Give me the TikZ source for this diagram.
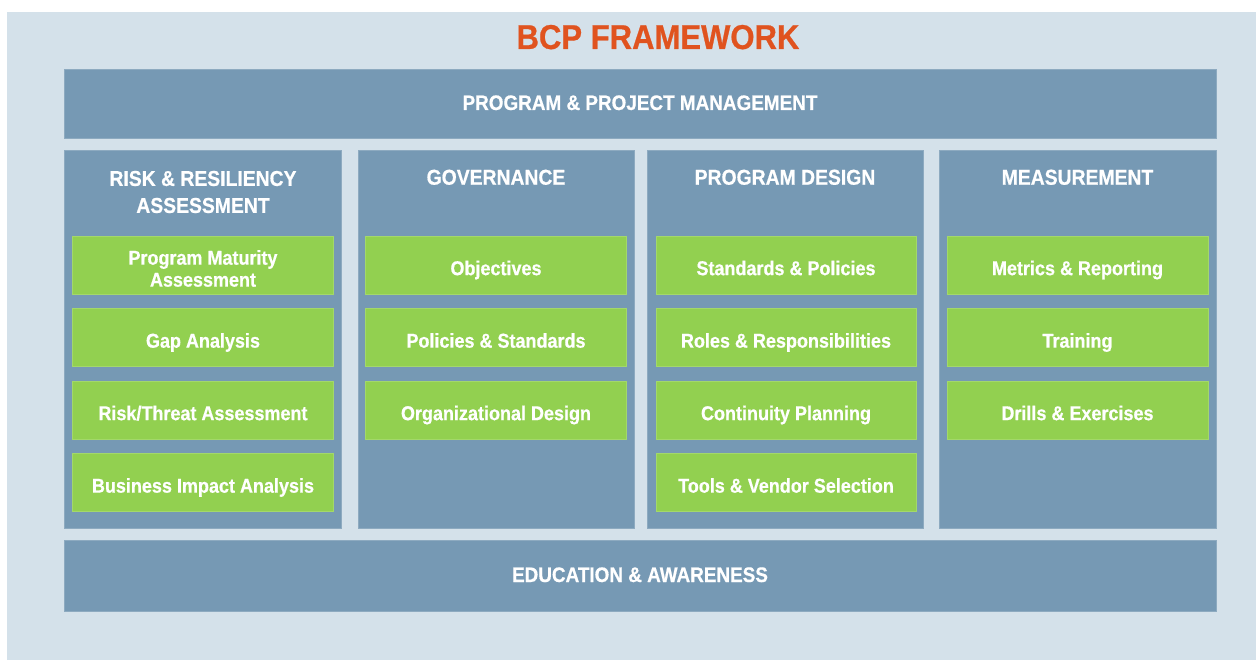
\documentclass[tikz,border=0pt]{standalone}
\usepackage{fontspec}
\setmainfont{Liberation Sans}[FakeStretch=0.9, BoldFeatures={FakeBold=0.6}]
\definecolor{bgblue}{HTML}{D4E1EA}
\definecolor{midblue}{HTML}{7699B4}
\definecolor{midedge}{HTML}{8DAAC0}
\definecolor{lgreen}{HTML}{92D050}
\definecolor{gedge}{HTML}{A3D86A}
\definecolor{torange}{HTML}{E0531F}
\tikzset{
  bar/.style={fill=midblue, draw=midedge, line width=0.8pt, inner sep=0pt, text=white, font=\fontsize{21}{24}\selectfont\bfseries, text height=13pt, text depth=0pt},
  col/.style={fill=midblue, draw=midedge, line width=0.8pt, inner sep=0pt, minimum width=276pt, minimum height=378pt},
  colhead/.style={text=white, font=\fontsize{21.5}{27}\selectfont\bfseries, align=center, inner sep=0pt},
  gbox/.style={fill=lgreen, draw=gedge, line width=0.8pt, minimum width=261pt, minimum height=58pt, inner sep=0pt, text=white, align=center, font=\fontsize{20}{22}\selectfont\bfseries},
  gone/.style={gbox, text height=20.3pt, text depth=0pt},
  gtext/.style={inner sep=0pt, text=white, align=center, font=\fontsize{20}{22}\selectfont\bfseries},
}
\begin{document}
\begin{tikzpicture}[x=1pt,y=-1pt]
\useasboundingbox (0,0) rectangle (1256,660);
\fill[white] (0,0) rectangle (1256,660);
\fill[bgblue] (7,12) rectangle (1256,660);
\node (title) [anchor=base, text=torange, font=\fontsize{34.5}{36}\selectfont\bfseries, inner sep=0pt] at (658,49) {BCP FRAMEWORK};
\node (ppm) [bar, minimum width=1152pt, minimum height=69pt] at (640,103.5) {PROGRAM \& PROJECT MANAGEMENT};
\node (edu) [bar, minimum width=1152pt, minimum height=71pt] at (640,575.5) {EDUCATION \& AWARENESS};
% columns
\node (c1) [col, minimum width=277pt] at (202.5,339) {};
\node (c2) [col] at (496,339) {};
\node (c3) [col] at (785,339) {};
\node (c4) [col, minimum width=277pt] at (1077.5,339) {};
\node (h1) [colhead] at (203,192) {RISK \& RESILIENCY\\ASSESSMENT};
\node (h2) [colhead, anchor=base] at (496,184.7) {GOVERNANCE};
\node (h3) [colhead, anchor=base] at (785,184.7) {PROGRAM DESIGN};
\node (h4) [colhead, anchor=base] at (1077.5,184.7) {MEASUREMENT};
% column 1
\node (g11) [gbox] at (203,265) {};
\node (g11t) [gtext] at (203,268.5) {Program Maturity\\Assessment};
\node (g12) [gone] at (203,337.5) {Gap Analysis};
\node (g13) [gone] at (203,410) {Risk/Threat Assessment};
\node (g14) [gone] at (203,482.5) {Business Impact Analysis};
% column 2
\node (g21) [gone] at (496,265) {Objectives};
\node (g22) [gone] at (496,337.5) {Policies \& Standards};
\node (g23) [gone] at (496,410) {Organizational Design};
% column 3
\node (g31) [gone, minimum width=260pt] at (786,265) {Standards \& Policies};
\node (g32) [gone, minimum width=260pt] at (786,337.5) {Roles \& Responsibilities};
\node (g33) [gone, minimum width=260pt] at (786,410) {Continuity Planning};
\node (g34) [gone, minimum width=260pt] at (786,482.5) {Tools \& Vendor Selection};
% column 4
\node (g41) [gone] at (1077.5,265) {Metrics \& Reporting};
\node (g42) [gone] at (1077.5,337.5) {Training};
\node (g43) [gone] at (1077.5,410) {Drills \& Exercises};
\end{tikzpicture}
\end{document}
